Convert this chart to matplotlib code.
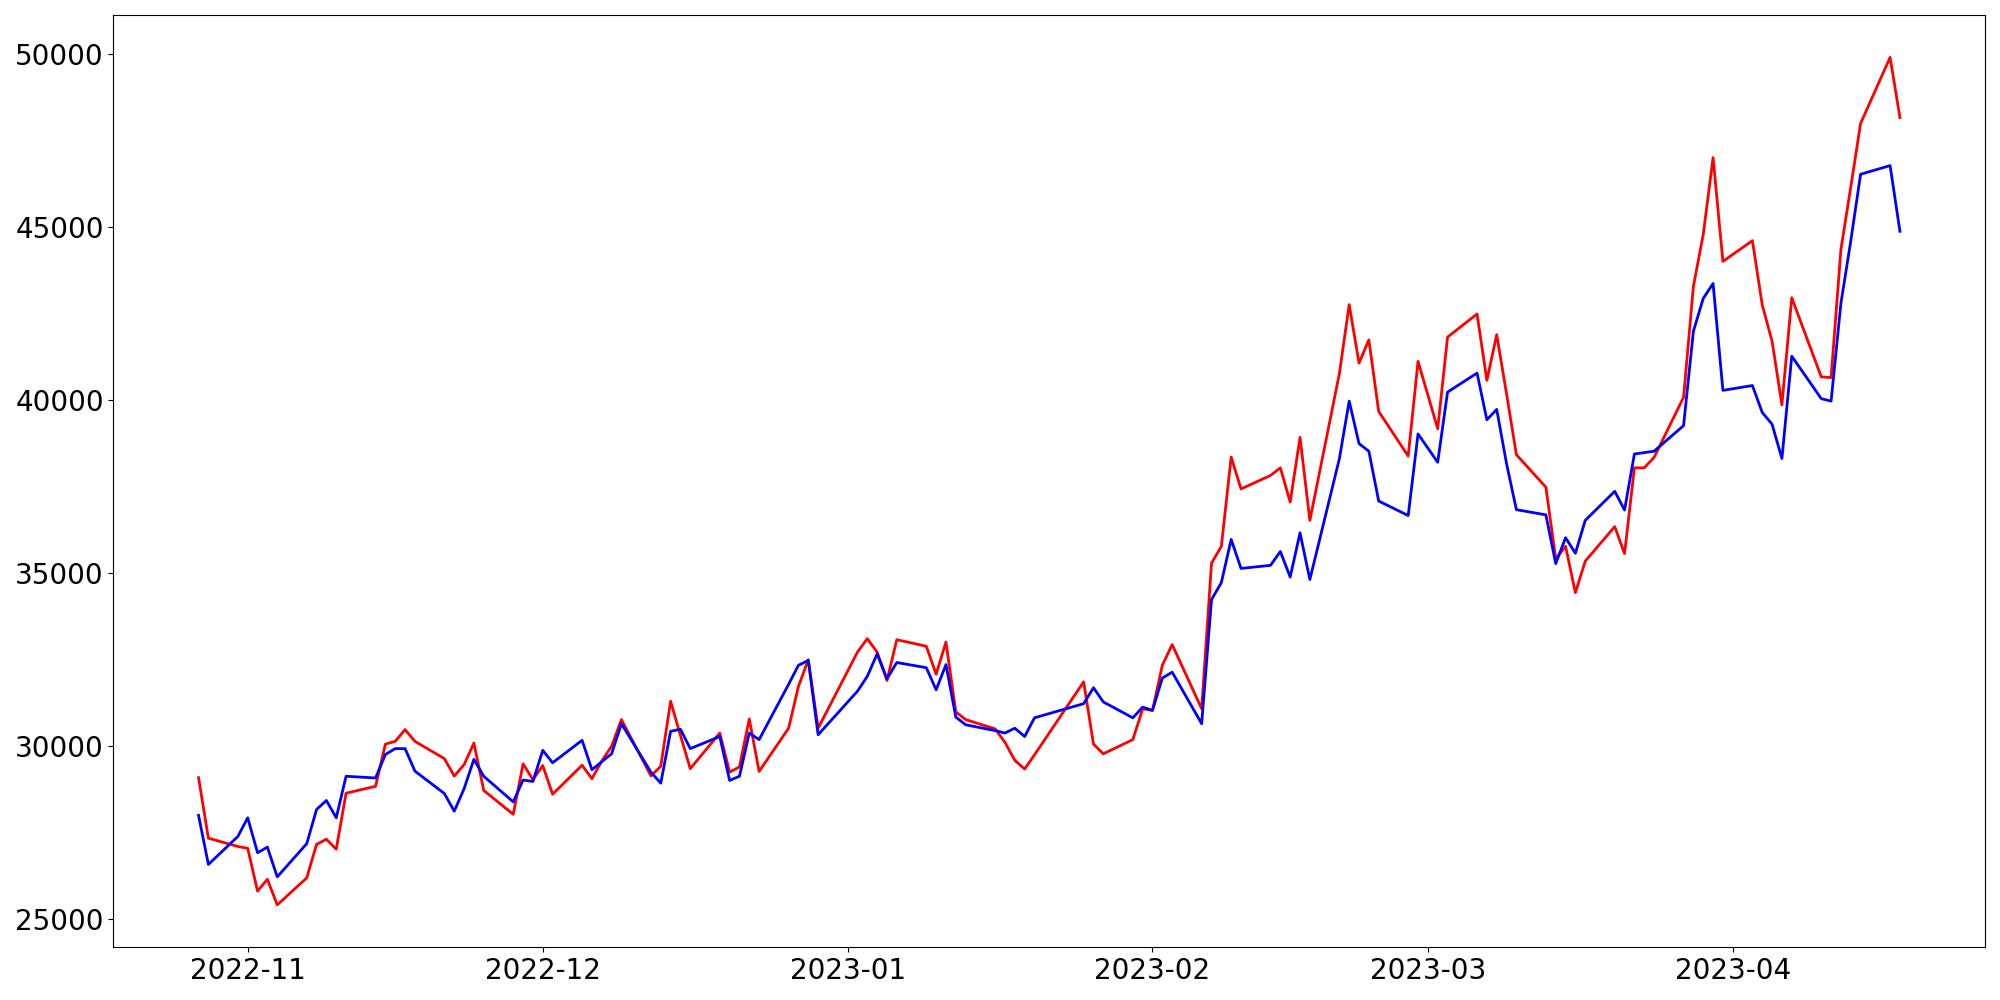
import numpy as np
import pandas as pd
import matplotlib
matplotlib.use("Agg")
import matplotlib.pyplot as plt

# trading days (market closed 2022-12-30, 2023-01-23/24, 2023-03-01)
holidays = ["2022-12-30", "2023-01-23", "2023-01-24", "2023-03-01"]
dates = pd.bdate_range("2022-10-27", "2023-04-18")
dates = dates[~dates.isin(pd.to_datetime(holidays))]

red_vals = [
    29080, 27330, 27090,
    27035, 25800, 26140, 25400, 26180, 27150, 27300, 27010, 28630, 28830, 30050,
    30130, 30470, 30130, 29630, 29125, 29455, 30080, 28710, 28020, 29480, 29020,
    29430, 28600, 29440, 29050, 29560, 29990, 30760, 29130, 29410, 31290, 30300,
    29340, 30370, 29240, 29390, 30780, 29260, 30510, 31720, 32490, 30510,
    32710, 33100, 32710, 31890, 33070, 32880, 32070, 33000, 30980, 30760, 30490,
    30100, 29580, 29330, 29740, 31850, 30050, 29770, 30180, 31070,
    31025, 32330, 32930, 31070, 35280, 35770, 38350, 37430, 37820, 38040, 37050,
    38920, 36520, 40760, 42760, 41070, 41740, 39670, 38380, 41120,
    39170, 41820, 42490, 40570, 41890, 40180, 38420, 37480, 35410, 35770, 34430,
    35340, 36340, 35560, 38040, 38040, 38340, 40080, 43290, 44790, 47010, 44010,
    44610, 42750, 41700, 39860, 42960, 40670, 40650, 44360, 46160, 48000, 49910,
    48170,
]

blue_vals = [
    27990, 26570, 27380,
    27920, 26910, 27070, 26210, 27170, 28160, 28420, 27920, 29120, 29070, 29750,
    29920, 29920, 29270, 28620, 28110, 28760, 29610, 29120, 28380, 29010, 28970,
    29870, 29510, 30160, 29310, 29540, 29770, 30640, 29240, 28920, 30420, 30480,
    29920, 30270, 29000, 29120, 30370, 30180, 31780, 32330, 32470, 30320,
    31580, 32010, 32660, 31940, 32410, 32260, 31620, 32350, 30830, 30610, 30440,
    30370, 30510, 30270, 30810, 31220, 31680, 31270, 30810, 31120,
    31025, 31960, 32130, 30640, 34230, 34720, 35970, 35130, 35220, 35620, 34880,
    36160, 34810, 38300, 39970, 38740, 38520, 37080, 36660, 39020,
    38200, 40230, 40780, 39430, 39730, 38160, 36830, 36680, 35270, 36020, 35570,
    36520, 37360, 36820, 38440, 38480, 38520, 39260, 41990, 42940, 43370, 40280,
    40420, 39640, 39300, 38310, 41270, 40040, 39970, 42800, 44600, 46530, 46780,
    44880,
]

fig, ax = plt.subplots(figsize=(20, 10))
ax.plot(dates, red_vals, color="red", linewidth=2)
ax.plot(dates, blue_vals, color="blue", linewidth=2)
ax.tick_params(axis="both", labelsize=20)
plt.tight_layout()
plt.savefig("out.png", dpi=100)
